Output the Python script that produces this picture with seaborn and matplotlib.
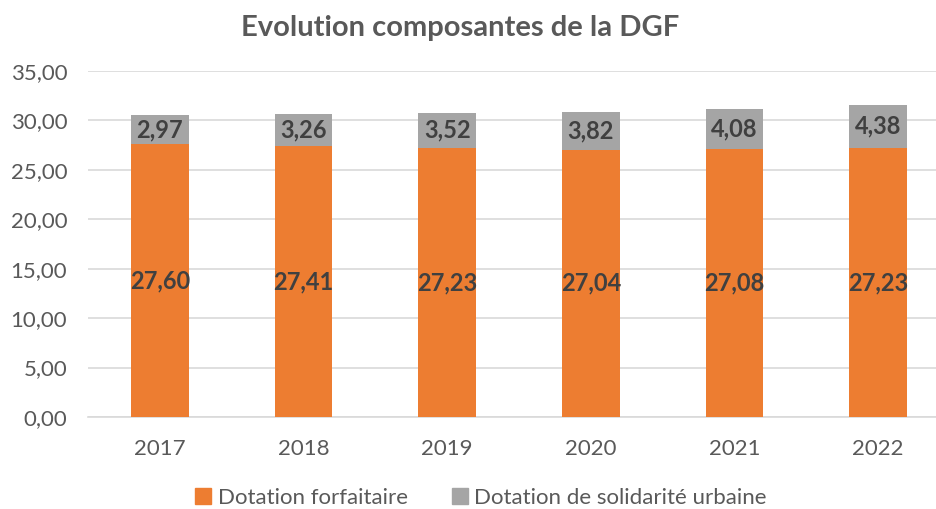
import matplotlib
matplotlib.use("Agg")
import matplotlib.pyplot as plt
import matplotlib.patches as mpatches
import seaborn as sns
import pandas as pd

years = ["2017", "2018", "2019", "2020", "2021", "2022"]
forfaitaire = [27.60, 27.41, 27.23, 27.04, 27.08, 27.23]
dsu = [2.97, 3.26, 3.52, 3.82, 4.08, 4.38]
series_names = ["Dotation forfaitaire", "Dotation de solidarité urbaine"]
title = "Evolution composantes de la DGF"

sns.set_theme(style="white")
plt.rcParams['font.family'] = ['Lato', 'DejaVu Sans']

ORANGE = "#ED7D31"
GRAY = "#A5A5A5"
TXT = "#595959"
LBL = "#404040"

df = pd.DataFrame({"year": years, "forf": forfaitaire, "dsu": dsu})

fig = plt.figure(figsize=(9.36, 5.09), dpi=100)
ax = fig.add_axes([0.094, 0.1807, 0.921, 0.6798])

sns.barplot(data=df, x="year", y="forf", color=ORANGE, width=0.4, ax=ax,
            saturation=1, linewidth=0, zorder=3)
sns.barplot(data=df, x="year", y="dsu", color=GRAY, width=0.4, ax=ax,
            saturation=1, linewidth=0, bottom=df["forf"].values, zorder=3)

ax.set_ylim(0, 35)
ax.set_yticks([0, 5, 10, 15, 20, 25, 30, 35])
ax.set_yticklabels([f"{v:.2f}".replace(".", ",") for v in range(0, 36, 5)])
ax.set_xlim(-0.5, 5.5)
ax.set_xlabel("")
ax.set_ylabel("")
ax.grid(axis="y", color="#D9D9D9", linewidth=1.2, zorder=0)
ax.set_axisbelow(True)
for s in ["top", "right", "left"]:
    ax.spines[s].set_visible(False)
ax.spines["bottom"].set_color("#D9D9D9")
ax.spines["bottom"].set_linewidth(1.2)
ax.tick_params(axis="both", length=0, labelsize=16, colors=TXT)
ax.tick_params(axis="y", pad=15)
ax.tick_params(axis="x", pad=16)

for i, (f, d) in enumerate(zip(forfaitaire, dsu)):
    ax.text(i, f / 2, f"{f:.2f}".replace(".", ","), ha="center", va="center",
            fontsize=17, fontweight="bold", color=LBL, zorder=5)
    ax.text(i, f + d / 2, f"{d:.2f}".replace(".", ","), ha="center", va="center",
            fontsize=17, fontweight="bold", color=LBL, zorder=5)

fig.text(0.492, 0.945, title, ha="center", va="center", fontsize=21,
         fontweight="bold", color=TXT)

handles = [mpatches.Patch(color=ORANGE, label=series_names[0]),
           mpatches.Patch(color=GRAY, label=series_names[1])]
fig.legend(handles=handles, loc="center", bbox_to_anchor=(0.514, 0.022), ncol=2,
           frameon=False, fontsize=16, labelcolor=TXT, handlelength=0.7,
           handleheight=0.7, handletextpad=0.3, columnspacing=2.0)

fig.savefig("out.png", dpi=100)
